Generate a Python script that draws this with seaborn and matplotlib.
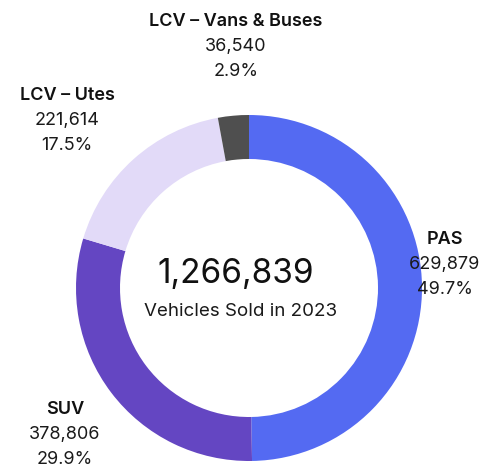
import matplotlib.pyplot as plt
import seaborn as sns

categories = ['PAS', 'SUV', 'LCV – Utes', 'LCV – Vans & Buses']
sold = [629879, 378806, 221614, 36540]
shares = ['49.7%', '29.9%', '17.5%', '2.9%']
colors = ['#546af2', '#6446c2', '#e2daf8', '#4f4f4f']
total = 1266839

sns.set_theme(style='white')
plt.rcParams['font.family'] = ['Inter', 'DejaVu Sans']

fig = plt.figure(figsize=(4.99, 4.70), dpi=100)
ax = fig.add_axes([0, 0, 1, 1])
ax.axis('off')

ax.pie(sold, colors=colors, startangle=90, counterclock=False,
       center=(249, 182), radius=173,
       wedgeprops=dict(width=44, edgecolor='none'))
ax.set_xlim(0, 499)
ax.set_ylim(0, 470)
ax.set_aspect('equal')

# label positions (pixel coords from top-left)
label_pos = [(445, 240), (65, 410), (67, 95), (236, 22)]
for cat, n, pct, (x, y) in zip(categories, sold, shares, label_pos):
    ax.text(x, 470 - y, cat, ha='center', va='center', fontsize=13,
            fontweight='semibold', color='#111111')
    ax.text(x, 470 - y - 25, f'{n:,}', ha='center', va='center',
            fontsize=13, color='#1a1a1a')
    ax.text(x, 470 - y - 50, pct, ha='center', va='center',
            fontsize=13, color='#1a1a1a')

ax.text(236, 470 - 274, f'{total:,}', ha='center', va='center',
        fontsize=24, color='#111111')
ax.text(241, 470 - 312, 'Vehicles Sold in 2023', ha='center', va='center',
        fontsize=13.5, color='#1a1a1a')

fig.savefig('out.png', dpi=100)
